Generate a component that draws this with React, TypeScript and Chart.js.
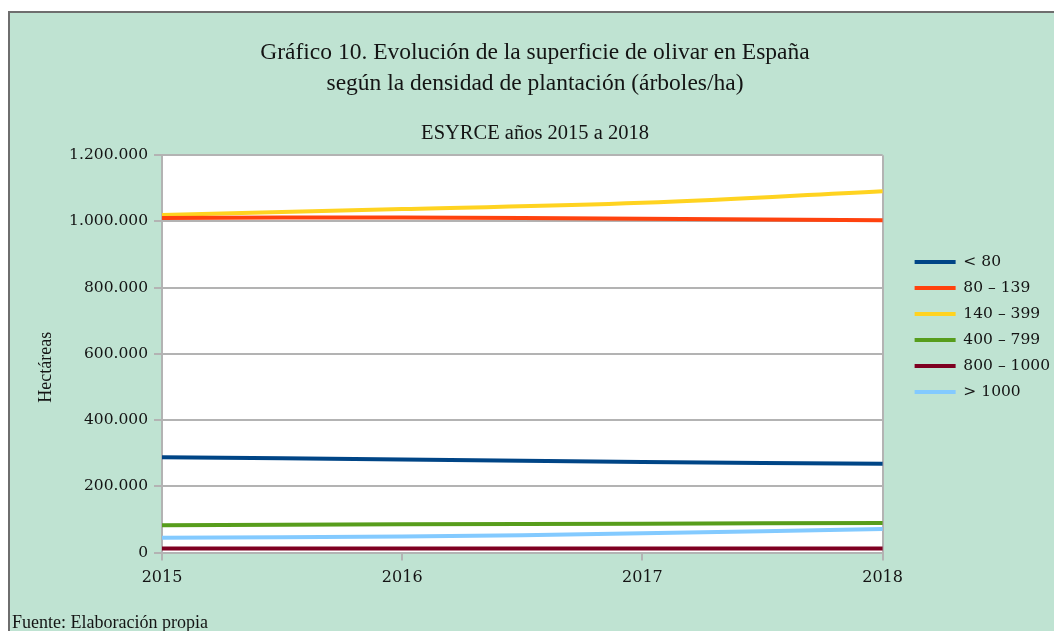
import React, { useEffect, useRef } from "react";
import { Chart, registerables } from "chart.js";

Chart.register(...registerables);

const years = ["2015", "2016", "2017", "2018"];
const seriesNames = ["< 80", "80 – 139", "140 – 399", "400 – 799", "800 – 1000", "> 1000"];
const menos80 = [288000, 281000, 273000, 268000];
const de80a139 = [1010000, 1012000, 1008000, 1003000];
const de140a399 = [1019000, 1037000, 1056000, 1091000];
const de400a799 = [82000, 85000, 87000, 89000];
const de800a1000 = [12000, 12000, 12000, 12000];
const mas1000 = [44500, 48000, 58000, 71000];
const seriesColors = ["#004586", "#ff420e", "#ffd320", "#579d1c", "#7e0021", "#83caff"];
const titleLines = [
  "Gráfico 10. Evolución de la superficie de olivar en España",
  "según la densidad de plantación (árboles/ha)",
];
const subtitleText = "ESYRCE años 2015 a 2018";
const yAxisTitle = "Hectáreas";
const footerText = "Fuente: Elaboración propia";

const GRID = "#b3b3b3";
const TEXT = "#141414";

const fmt = (v: number) => String(v).replace(/\B(?=(\d{3})+(?!\d))/g, ".");

const plotBg = {
  id: "plotBg",
  beforeDraw(chart: any) {
    const { ctx, chartArea } = chart;
    if (!chartArea) return;
    ctx.save();
    ctx.fillStyle = "#ffffff";
    ctx.fillRect(chartArea.left, chartArea.top, chartArea.right - chartArea.left, chartArea.bottom - chartArea.top);
    ctx.restore();
  },
};

export default function App() {
  const ref = useRef<HTMLCanvasElement>(null);

  useEffect(() => {
    document.body.style.overflow = "hidden";
    const allValues = [menos80, de80a139, de140a399, de400a799, de800a1000, mas1000];
    const chart = new Chart(ref.current as HTMLCanvasElement, {
      type: "line",
      data: {
        labels: years,
        datasets: seriesNames.map((name, i) => ({
          label: name,
          data: allValues[i],
          borderColor: seriesColors[i],
          backgroundColor: seriesColors[i],
          borderWidth: 4,
          pointRadius: 0,
          tension: 0.4,
          fill: false,
        })),
      },
      options: {
        animation: false,
        responsive: false,
        layout: { padding: { left: 10, right: 4, top: 0, bottom: 36.3 } },
        plugins: {
          title: {
            display: true,
            text: titleLines,
            color: TEXT,
            font: { family: "'Liberation Serif'", size: 23.5, weight: "normal", lineHeight: 1.32 },
            padding: { top: 37.5, bottom: 0 },
          },
          subtitle: {
            display: true,
            text: subtitleText,
            color: TEXT,
            font: { family: "'Liberation Serif'", size: 20.5, weight: "normal", lineHeight: 1.2 },
            padding: { top: 22, bottom: 9 },
          },
          legend: {
            display: true,
            position: "right",
            align: "start",
            fullSize: false,
            title: { display: true, text: "", font: { size: 1, lineHeight: 1.2 }, padding: { top: 87.3, bottom: 0 } },
            labels: {
              color: TEXT,
              font: { family: "'DejaVu Serif'", size: 15.5 },
              boxWidth: 41,
              boxHeight: 4,
              padding: 10.5,
              generateLabels: (c: any) =>
                Chart.defaults.plugins.legend.labels.generateLabels(c).map((it: any) => ({ ...it, lineWidth: 0 })),
            },
          },
          tooltip: { enabled: false },
        },
        scales: {
          x: {
            offset: false,
            grid: {
              color: (ctx: any) => (ctx.index === 0 || ctx.index === years.length - 1 ? GRID : "rgba(0,0,0,0)"),
              tickColor: GRID,
              tickLength: 8,
              lineWidth: 2,
            },
            border: { display: true, color: GRID, width: 2 },
            ticks: { color: TEXT, font: { family: "'DejaVu Serif'", size: 16 }, padding: 7.5, maxRotation: 0 },
          },
          y: {
            min: 0,
            max: 1200000,
            grid: { color: GRID, tickColor: GRID, tickLength: 8, lineWidth: 2 },
            border: { display: true, color: GRID, width: 2 },
            ticks: {
              stepSize: 200000,
              color: TEXT,
              font: { family: "'DejaVu Serif'", size: 15.5 },
              padding: 6,
              callback: (v: any) => fmt(Number(v)),
            },
            title: {
              display: true,
              text: yAxisTitle + "      ",
              color: TEXT,
              font: { family: "'Liberation Serif'", size: 18, lineHeight: 1.2 },
              padding: { top: 25.2, bottom: 0 },
            },
            afterFit: (s: any) => {
              s.width = 152;
            },
          },
          pad: {
            type: "linear",
            position: "right",
            display: true,
            grid: { display: false, drawTicks: false },
            border: { display: false },
            ticks: { display: false },
            afterFit: (s: any) => {
              s.width = 21.5;
            },
          },
        },
      } as any,
      plugins: [plotBg],
    });
    return () => chart.destroy();
  }, []);

  return (
    <div style={{ position: "fixed", left: 0, top: 0, width: 1054, height: 631, overflow: "hidden", background: "#ffffff" }}>
      <div
        style={{
          position: "absolute",
          left: 8,
          top: 11,
          width: 1100,
          height: 700,
          background: "#bfe3d2",
          borderLeft: "2px solid #6e6e6e",
          borderTop: "2px solid #6e6e6e",
        }}
      />
      <canvas ref={ref} width={1064} height={631} style={{ position: "absolute", left: 0, top: 0, width: 1064, height: 631 }} />
      <div
        style={{
          position: "absolute",
          left: 12,
          top: 612,
          fontFamily: "'Liberation Serif'",
          fontSize: 18,
          lineHeight: "20px",
          color: TEXT,
          whiteSpace: "nowrap",
        }}
      >
        {footerText}
      </div>
    </div>
  );
}
